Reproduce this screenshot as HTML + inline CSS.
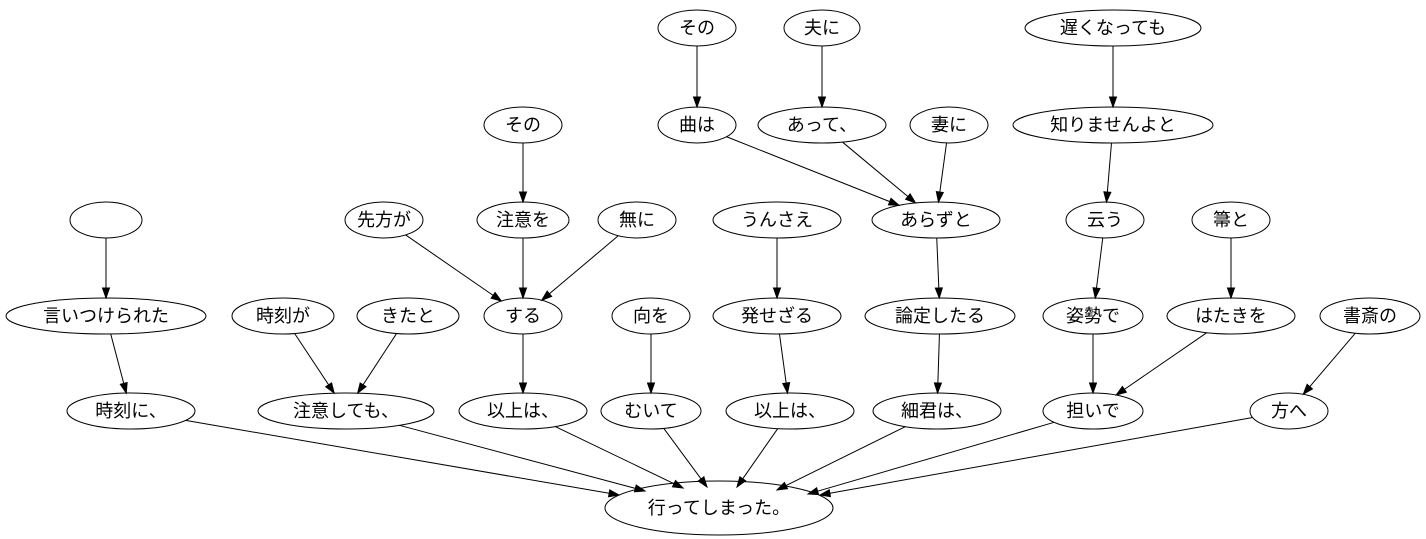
<!DOCTYPE html>
<html><head><meta charset="utf-8"><style>
html,body{margin:0;padding:0;background:#fff;}
svg{display:block;}
text{font-family:"Liberation Sans","Noto Sans CJK JP",sans-serif;font-size:18px;text-anchor:middle;dominant-baseline:central;fill:#000;}
ellipse{fill:none;stroke:#000;stroke-width:1;}
</style></head><body>
<svg id="s" width="1426" height="539" viewBox="0 0 1426 539" xmlns="http://www.w3.org/2000/svg">
<g id="edges"></g>
<g id="nodes">
<ellipse id="a1" cx="697" cy="28" rx="39" ry="18"/><text x="697" y="28">その</text>
<ellipse id="a2" cx="822" cy="28" rx="38" ry="18"/><text x="822" y="28">夫に</text>
<ellipse id="a3" cx="1113" cy="28" rx="88" ry="18"/><text x="1113" y="28">遅くなっても</text>
<ellipse id="b1" cx="523" cy="125" rx="39" ry="18"/><text x="523" y="125">その</text>
<ellipse id="b2" cx="697" cy="125" rx="39" ry="18"/><text x="697" y="125">曲は</text>
<ellipse id="b3" cx="822" cy="125" rx="64" ry="18"/><text x="822" y="125">あって、</text>
<ellipse id="b4" cx="949" cy="125" rx="39" ry="18"/><text x="949" y="125">妻に</text>
<ellipse id="b5" cx="1113" cy="125" rx="100" ry="18"/><text x="1113" y="125">知りませんよと</text>
<ellipse id="c1" cx="106" cy="220" rx="36" ry="18"/>
<ellipse id="c2" cx="384" cy="220" rx="39" ry="18"/><text x="384" y="220">先方が</text>
<ellipse id="c3" cx="523" cy="220" rx="46" ry="18"/><text x="523" y="220">注意を</text>
<ellipse id="c4" cx="637" cy="220" rx="39" ry="18"/><text x="637" y="220">無に</text>
<ellipse id="c5" cx="777" cy="220" rx="64" ry="18"/><text x="777" y="220">うんさえ</text>
<ellipse id="c6" cx="936" cy="220" rx="64" ry="18"/><text x="936" y="220">あらずと</text>
<ellipse id="c7" cx="1105" cy="220" rx="39" ry="18"/><text x="1105" y="220">云う</text>
<ellipse id="c8" cx="1231" cy="220" rx="39" ry="18"/><text x="1231" y="220">箒と</text>
<ellipse id="d1" cx="106" cy="316" rx="100" ry="18"/><text x="106" y="316">言いつけられた</text>
<ellipse id="d2" cx="283" cy="316" rx="51" ry="18"/><text x="283" y="316">時刻が</text>
<ellipse id="d3" cx="408" cy="316" rx="51" ry="18"/><text x="408" y="316">きたと</text>
<ellipse id="d4" cx="523" cy="316" rx="39" ry="18"/><text x="523" y="316">する</text>
<ellipse id="d5" cx="651" cy="316" rx="39" ry="18"/><text x="651" y="316">向を</text>
<ellipse id="d6" cx="777" cy="316" rx="64" ry="18"/><text x="777" y="316">発せざる</text>
<ellipse id="d7" cx="940" cy="316" rx="75" ry="18"/><text x="940" y="316">論定したる</text>
<ellipse id="d8" cx="1093" cy="316" rx="50" ry="18"/><text x="1093" y="316">姿勢で</text>
<ellipse id="d9" cx="1231" cy="316" rx="64" ry="18"/><text x="1231" y="316">はたきを</text>
<ellipse id="d10" cx="1370" cy="316" rx="50" ry="18"/><text x="1370" y="316">書斎の</text>
<ellipse id="e1" cx="131" cy="411" rx="64" ry="18"/><text x="131" y="411">時刻に、</text>
<ellipse id="e2" cx="346" cy="411" rx="88" ry="18"/><text x="346" y="411">注意しても、</text>
<ellipse id="e3" cx="523" cy="411" rx="64" ry="18"/><text x="523" y="411">以上は、</text>
<ellipse id="e4" cx="651" cy="411" rx="50" ry="18"/><text x="651" y="411">むいて</text>
<ellipse id="e5" cx="790" cy="411" rx="64" ry="18"/><text x="790" y="411">以上は、</text>
<ellipse id="e6" cx="937" cy="411" rx="64" ry="18"/><text x="937" y="411">細君は、</text>
<ellipse id="e7" cx="1093" cy="411" rx="50" ry="18"/><text x="1093" y="411">担いで</text>
<ellipse id="e8" cx="1289" cy="411" rx="39" ry="18"/><text x="1289" y="411">方へ</text>
<ellipse id="f" cx="719" cy="508" rx="114" ry="27"/><text x="719" y="508">行ってしまった。</text>
</g>
</svg>
<script>
var E=[["a1","b2"],["a2","b3"],["a3","b5"],["b1","c3"],["b2","c6"],["b3","c6"],["b4","c6"],["b5","c7"],
["c1","d1"],["c2","d4"],["c3","d4"],["c4","d4"],["c5","d6"],["c6","d7"],["c7","d8"],["c8","d9"],
["d1","e1"],["d2","e2"],["d3","e2"],["d4","e3"],["d5","e4"],["d6","e5"],["d7","e6"],["d8","e7"],["d9","e7"],["d10","e8"]];
var F={e1:[619,495],e2:[645,491],e3:[683,488],e4:[707,487],e5:[737,487],e6:[777,490],e7:[808,494],e8:[820,495]};
function g(id){var e=document.getElementById(id);return{x:+e.getAttribute("cx"),y:+e.getAttribute("cy"),rx:+e.getAttribute("rx"),ry:+e.getAttribute("ry")};}
function bd(n,dx,dy){var t=1/Math.sqrt(dx*dx/(n.rx*n.rx)+dy*dy/(n.ry*n.ry));return[n.x+dx*t,n.y+dy*t];}
var G=document.getElementById("edges"),h="";
function arrow(s,q){var L=Math.hypot(q[0]-s[0],q[1]-s[1]);var ux=(q[0]-s[0])/L,uy=(q[1]-s[1])/L;
 var bx=q[0]-ux*10,by=q[1]-uy*10;
 h+='<line x1="'+s[0]+'" y1="'+s[1]+'" x2="'+bx+'" y2="'+by+'" stroke="#000"/>';
 h+='<polygon points="'+q[0]+','+q[1]+' '+(bx-uy*3.5)+','+(by+ux*3.5)+' '+(bx+uy*3.5)+','+(by-ux*3.5)+'" fill="#000" stroke="#000"/>';}
E.forEach(function(p){var a=g(p[0]),b=g(p[1]);var dx=b.x-a.x,dy=b.y-a.y;
 arrow(bd(a,dx,dy),bd(b,-dx,-dy));});
for(var k in F){var a=g(k),q=F[k];arrow(bd(a,q[0]-a.x,q[1]-a.y),q);}
G.innerHTML=h;
</script>
</body></html>
